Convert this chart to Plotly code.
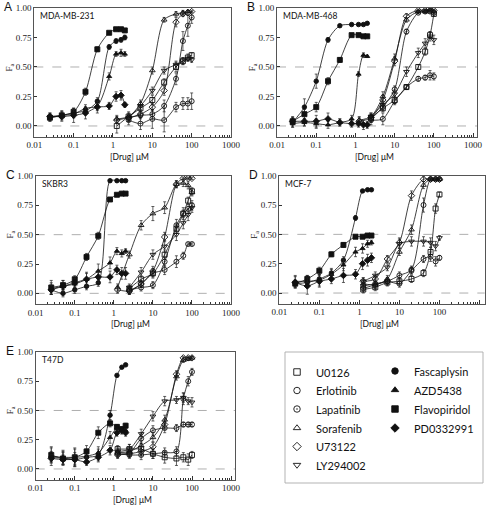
import plotly.graph_objects as go

W, H = 487, 506

conc_lo = [0.025, 0.05, 0.1, 0.2, 0.4, 0.8, 1.2, 1.6, 2.0]
conc_hi = [1.25, 2.5, 5, 10, 20, 40, 60, 80, 100]

drugs_open = ["U0126", "Erlotinib", "Lapatinib", "Sorafenib", "U73122", "LY294002"]
drugs_filled = ["Fascaplysin", "AZD5438", "Flavopiridol", "PD0332991"]
cell_lines = ["MDA-MB-231", "MDA-MB-468", "SKBR3", "MCF-7", "T47D"]
panel_letters = ["A", "B", "C", "D", "E"]
x_tick_vals = [0.01, 0.1, 1, 10, 100, 1000]
x_tick_text = ["0.01", "0.1", "1", "10", "100", "1000"]
y_tick_vals = [0, 0.25, 0.5, 0.75, 1.0]
y_tick_text = ["0.00", "0.25", "0.50", "0.75", "1.00"]

# ---- Fa values (open drugs on conc_hi, filled drugs on conc_lo) ----
fa_A = {
    "U0126":        [0.00, 0.08, 0.15, 0.22, 0.37, 0.50, 0.55, 0.58, 0.60],
    "Erlotinib":    [None, 0.05, 0.02, 0.06, 0.05, 0.16, 0.19, 0.19, 0.21],
    "Lapatinib":    [None, 0.07, 0.09, 0.10, 0.17, 0.40, 0.72, 0.85, 0.92],
    "Sorafenib":    [0.06, 0.08, 0.19, 0.47, 0.90, 0.95, 0.96, 0.97, None],
    "U73122":       [0.05, 0.07, 0.10, 0.16, 0.30, 0.88, 0.95, 0.96, 0.97],
    "LY294002":     [None, 0.07, 0.17, 0.30, 0.47, 0.52, 0.55, 0.57, 0.56],
    "Fascaplysin":  [0.07, 0.09, 0.11, 0.13, 0.21, 0.67, 0.72, 0.73, 0.75],
    "AZD5438":      [0.08, 0.09, 0.10, 0.15, 0.17, 0.42, 0.61, 0.62, 0.61],
    "Flavopiridol": [0.07, 0.09, 0.12, 0.29, 0.65, 0.79, 0.82, 0.82, 0.81],
    "PD0332991":    [0.08, 0.08, 0.09, 0.11, 0.16, 0.17, 0.25, 0.26, 0.18],
}
err_A = {
    "U0126":        [0.06, 0.04, 0.03, 0.04, 0.03, 0.04, 0.03, 0.03, 0.02],
    "Erlotinib":    [0.00, 0.04, 0.05, 0.08, 0.10, 0.04, 0.05, 0.05, 0.07],
    "Lapatinib":    [0.00, 0.03, 0.03, 0.04, 0.05, 0.05, 0.08, 0.09, 0.05],
    "Sorafenib":    [0.03, 0.03, 0.03, 0.03, 0.02, 0.02, 0.02, 0.01, 0.00],
    "U73122":       [0.03, 0.03, 0.03, 0.03, 0.04, 0.04, 0.02, 0.02, 0.01],
    "LY294002":     [0.00, 0.03, 0.03, 0.03, 0.03, 0.03, 0.03, 0.02, 0.02],
    "Fascaplysin":  [0.03, 0.04, 0.04, 0.03, 0.03, 0.02, 0.02, 0.02, 0.02],
    "AZD5438":      [0.03, 0.03, 0.03, 0.03, 0.04, 0.03, 0.02, 0.03, 0.02],
    "Flavopiridol": [0.03, 0.02, 0.03, 0.03, 0.02, 0.01, 0.01, 0.01, 0.01],
    "PD0332991":    [0.03, 0.04, 0.06, 0.05, 0.05, 0.03, 0.04, 0.04, 0.02],
}

fa_B = {
    "U0126":        [None, 0.07, 0.15, 0.22, 0.33, 0.50, 0.63, 0.77, 0.95],
    "Erlotinib":    [None, 0.05, 0.06, 0.21, 0.33, 0.40, 0.41, 0.43, 0.42],
    "Lapatinib":    [None, 0.06, 0.16, 0.31, 0.80, 0.96, 0.97, 0.97, 0.96],
    "Sorafenib":    [0.05, 0.08, 0.25, 0.57, 0.90, 0.97, 0.97, 0.98, 0.97],
    "U73122":       [0.04, 0.07, 0.22, 0.55, 0.93, 0.98, 0.98, 0.98, 0.98],
    "LY294002":     [None, 0.08, 0.18, 0.27, 0.46, 0.62, 0.70, 0.76, 0.73],
    "Fascaplysin":  [0.03, 0.16, 0.38, 0.73, 0.85, 0.86, 0.86, 0.86, 0.87],
    "AZD5438":      [0.02, 0.03, 0.02, 0.01, 0.03, 0.06, 0.44, 0.60, 0.59],
    "Flavopiridol": [0.04, 0.10, 0.16, 0.38, 0.56, 0.77, 0.77, 0.76, 0.76],
    "PD0332991":    [0.04, 0.04, 0.04, 0.06, 0.03, 0.02, 0.02, 0.01, 0.01],
}
err_B = {
    "U0126":        [0.00, 0.03, 0.03, 0.03, 0.02, 0.02, 0.03, 0.03, 0.02],
    "Erlotinib":    [0.00, 0.04, 0.05, 0.03, 0.02, 0.02, 0.02, 0.04, 0.03],
    "Lapatinib":    [0.00, 0.03, 0.03, 0.03, 0.02, 0.01, 0.01, 0.01, 0.01],
    "Sorafenib":    [0.03, 0.03, 0.04, 0.04, 0.02, 0.01, 0.01, 0.01, 0.01],
    "U73122":       [0.03, 0.03, 0.04, 0.04, 0.02, 0.01, 0.01, 0.01, 0.01],
    "LY294002":     [0.00, 0.03, 0.03, 0.03, 0.04, 0.04, 0.04, 0.04, 0.04],
    "Fascaplysin":  [0.04, 0.07, 0.06, 0.02, 0.01, 0.01, 0.01, 0.01, 0.01],
    "AZD5438":      [0.03, 0.03, 0.04, 0.03, 0.03, 0.03, 0.02, 0.02, 0.01],
    "Flavopiridol": [0.03, 0.04, 0.04, 0.03, 0.02, 0.01, 0.01, 0.01, 0.01],
    "PD0332991":    [0.04, 0.04, 0.05, 0.05, 0.03, 0.03, 0.03, 0.04, 0.03],
}

fa_C = {
    "U0126":        [None, 0.04, 0.12, 0.17, 0.33, 0.55, 0.68, 0.79, 0.87],
    "Erlotinib":    [None, 0.02, 0.08, 0.17, 0.20, 0.27, 0.32, 0.42, 0.42],
    "Lapatinib":    [None, 0.03, 0.05, 0.07, 0.27, 0.58, 0.68, 0.72, 0.75],
    "Sorafenib":    [0.05, 0.33, 0.58, 0.68, 0.73, 0.93, 0.94, 0.92, 0.86],
    "U73122":       [0.03, 0.02, 0.08, 0.19, 0.48, 0.93, 0.98, 0.98, 0.98],
    "LY294002":     [None, 0.05, 0.18, 0.33, 0.40, 0.50, 0.60, 0.67, 0.73],
    "Fascaplysin":  [0.03, 0.00, 0.03, 0.06, 0.09, 0.96, 0.96, 0.96, 0.96],
    "AZD5438":      [0.04, 0.06, 0.08, 0.12, 0.19, 0.26, 0.36, 0.34, 0.36],
    "Flavopiridol": [0.05, 0.07, 0.12, 0.31, 0.49, 0.80, 0.84, 0.85, 0.85],
    "PD0332991":    [0.03, 0.06, 0.09, 0.12, 0.14, 0.14, 0.20, 0.17, 0.17],
}
err_C = {
    "U0126":        [0.00, 0.03, 0.03, 0.03, 0.04, 0.04, 0.03, 0.03, 0.03],
    "Erlotinib":    [0.00, 0.03, 0.03, 0.04, 0.04, 0.05, 0.03, 0.01, 0.01],
    "Lapatinib":    [0.00, 0.03, 0.03, 0.03, 0.04, 0.05, 0.05, 0.04, 0.04],
    "Sorafenib":    [0.03, 0.03, 0.04, 0.06, 0.05, 0.03, 0.03, 0.03, 0.03],
    "U73122":       [0.03, 0.03, 0.03, 0.04, 0.04, 0.03, 0.01, 0.01, 0.01],
    "LY294002":     [0.00, 0.03, 0.04, 0.04, 0.05, 0.05, 0.05, 0.05, 0.04],
    "Fascaplysin":  [0.03, 0.03, 0.03, 0.03, 0.03, 0.01, 0.01, 0.01, 0.01],
    "AZD5438":      [0.05, 0.05, 0.05, 0.06, 0.06, 0.05, 0.03, 0.03, 0.02],
    "Flavopiridol": [0.06, 0.04, 0.03, 0.03, 0.03, 0.01, 0.01, 0.01, 0.01],
    "PD0332991":    [0.04, 0.03, 0.04, 0.05, 0.05, 0.05, 0.04, 0.05, 0.05],
}

fa_D = {
    "U0126":        [0.03, 0.05, 0.09, 0.10, 0.12, 0.17, 0.35, 0.72, 0.84],
    "Erlotinib":    [0.04, 0.07, 0.10, 0.08, 0.19, 0.29, 0.31, 0.27, 0.30],
    "Lapatinib":    [0.06, 0.08, 0.10, 0.15, 0.20, 0.75, 0.97, 0.97, 0.97],
    "Sorafenib":    [0.08, 0.07, 0.12, 0.35, 0.54, 0.92, 0.97, 0.97, 0.97],
    "U73122":       [0.10, 0.12, 0.29, 0.43, 0.83, 0.97, 0.97, 0.97, 0.97],
    "LY294002":     [0.10, 0.15, 0.22, 0.42, 0.44, 0.44, 0.43, 0.40, 0.47],
    "Fascaplysin":  [0.08, 0.09, 0.12, 0.17, 0.28, 0.64, 0.87, 0.88, 0.88],
    "AZD5438":      [0.10, 0.10, 0.11, 0.16, 0.24, 0.35, 0.38, 0.42, 0.43],
    "Flavopiridol": [0.08, 0.12, 0.19, 0.33, 0.41, 0.48, 0.48, 0.49, 0.49],
    "PD0332991":    [0.09, 0.06, 0.10, 0.12, 0.15, 0.16, 0.25, 0.28, 0.30],
}
err_D = {
    "U0126":        [0.03, 0.03, 0.03, 0.03, 0.03, 0.03, 0.04, 0.04, 0.02],
    "Erlotinib":    [0.03, 0.03, 0.03, 0.03, 0.03, 0.03, 0.04, 0.04, 0.02],
    "Lapatinib":    [0.03, 0.03, 0.03, 0.03, 0.03, 0.06, 0.01, 0.01, 0.01],
    "Sorafenib":    [0.03, 0.03, 0.03, 0.03, 0.04, 0.03, 0.01, 0.01, 0.01],
    "U73122":       [0.03, 0.03, 0.03, 0.04, 0.04, 0.02, 0.01, 0.01, 0.01],
    "LY294002":     [0.03, 0.03, 0.03, 0.04, 0.04, 0.04, 0.04, 0.04, 0.02],
    "Fascaplysin":  [0.03, 0.04, 0.04, 0.03, 0.03, 0.02, 0.01, 0.01, 0.01],
    "AZD5438":      [0.05, 0.05, 0.05, 0.05, 0.05, 0.04, 0.04, 0.03, 0.02],
    "Flavopiridol": [0.03, 0.03, 0.03, 0.02, 0.02, 0.01, 0.01, 0.01, 0.01],
    "PD0332991":    [0.05, 0.07, 0.05, 0.04, 0.06, 0.04, 0.05, 0.05, 0.04],
}

fa_E = {
    "U0126":        [0.17, 0.17, 0.17, 0.13, 0.10, 0.09, 0.10, 0.08, 0.12],
    "Erlotinib":    [0.14, 0.14, 0.26, 0.33, 0.35, 0.35, 0.38, 0.38, 0.38],
    "Lapatinib":    [0.13, 0.12, 0.12, 0.13, 0.14, 0.15, 0.60, 0.75, 0.83],
    "Sorafenib":    [0.14, 0.15, 0.20, 0.27, 0.42, 0.79, 0.93, 0.94, 0.95],
    "U73122":       [0.12, 0.13, 0.15, 0.19, 0.38, 0.81, 0.95, 0.95, 0.95],
    "LY294002":     [0.15, 0.17, 0.30, 0.45, 0.58, 0.59, 0.61, 0.58, 0.57],
    "Fascaplysin":  [0.10, 0.09, 0.08, 0.10, 0.12, 0.46, 0.80, 0.87, 0.89],
    "AZD5438":      [0.11, 0.10, 0.10, 0.11, 0.14, 0.27, 0.35, 0.33, 0.33],
    "Flavopiridol": [0.12, 0.09, 0.10, 0.15, 0.31, 0.39, 0.36, 0.34, 0.37],
    "PD0332991":    [0.09, 0.08, 0.08, 0.06, 0.10, 0.16, 0.31, 0.33, 0.31],
}
err_E = {
    "U0126":        [0.03, 0.04, 0.05, 0.04, 0.05, 0.06, 0.04, 0.05, 0.03],
    "Erlotinib":    [0.03, 0.03, 0.04, 0.04, 0.04, 0.03, 0.02, 0.02, 0.02],
    "Lapatinib":    [0.03, 0.03, 0.04, 0.04, 0.04, 0.04, 0.05, 0.04, 0.03],
    "Sorafenib":    [0.03, 0.04, 0.04, 0.04, 0.04, 0.03, 0.02, 0.01, 0.01],
    "U73122":       [0.03, 0.03, 0.04, 0.04, 0.04, 0.03, 0.01, 0.01, 0.01],
    "LY294002":     [0.03, 0.04, 0.04, 0.04, 0.04, 0.03, 0.04, 0.03, 0.04],
    "Fascaplysin":  [0.05, 0.05, 0.06, 0.05, 0.05, 0.04, 0.01, 0.01, 0.01],
    "AZD5438":      [0.08, 0.06, 0.07, 0.06, 0.05, 0.05, 0.03, 0.03, 0.02],
    "Flavopiridol": [0.06, 0.06, 0.08, 0.05, 0.05, 0.03, 0.02, 0.02, 0.02],
    "PD0332991":    [0.03, 0.04, 0.04, 0.03, 0.04, 0.04, 0.03, 0.03, 0.03],
}

panel_fa = [fa_A, fa_B, fa_C, fa_D, fa_E]
panel_err = [err_A, err_B, err_C, err_D, err_E]

# ---- styling ----
symbols = {
    "U0126": "square-open", "Erlotinib": "circle-open", "Lapatinib": "circle-open-dot",
    "Sorafenib": "triangle-up-open", "U73122": "diamond-open", "LY294002": "triangle-down-open",
    "Fascaplysin": "circle", "AZD5438": "triangle-up", "Flavopiridol": "square",
    "PD0332991": "diamond",
}
msize = {
    "U0126": 5, "Erlotinib": 5, "Lapatinib": 5, "Sorafenib": 5, "U73122": 5, "LY294002": 5,
    "Fascaplysin": 4.5, "AZD5438": 4.5, "Flavopiridol": 5, "PD0332991": 5,
}

# panel boxes in pixels: left, right, top(y=1), bottom(y=-0.09), xmax(log)
boxes = [
    (34.3, 231.0, 8.0, 136.6, 3.0),
    (277.0, 477.0, 8.0, 136.6, 3.1),
    (35.7, 231.0, 176.0, 303.9, 3.0),
    (279.3, 484.7, 175.7, 303.6, 3.13),
    (35.7, 235.0, 352.0, 479.5, 3.1),
]
YMIN, YMAX = -0.09, 1.0

SERIF = "Liberation Serif"
SANS = "Lato"

fig = go.Figure()
layout = dict(
    width=W, height=H, margin=dict(l=0, r=0, t=0, b=0, autoexpand=False),
    paper_bgcolor="white", plot_bgcolor="rgba(0,0,0,0)", showlegend=False,
)
annotations = []
shapes = []

for i, (box, fa, err) in enumerate(zip(boxes, panel_fa, panel_err)):
    n = i + 1
    l, r, t, b, xmax = box
    xa = "xaxis" if n == 1 else f"xaxis{n}"
    ya = "yaxis" if n == 1 else f"yaxis{n}"
    xr = "x" if n == 1 else f"x{n}"
    yr = "y" if n == 1 else f"y{n}"
    layout[xa] = dict(
        domain=[l / W, r / W], anchor=yr, type="log", range=[-2, xmax],
        tickmode="array", tickvals=x_tick_vals, ticktext=x_tick_text,
        ticks="inside", ticklen=4, tickwidth=0.8, tickcolor="#333",
        minor=dict(ticks="inside", ticklen=2, tickwidth=0.6, tickcolor="#333",
                   tickvals=[m * 10 ** e for e in range(-2, 3) for m in range(2, 10)]),
        showline=True, mirror=True, linecolor="#555", linewidth=0.8,
        showgrid=False, zeroline=False,
        tickfont=dict(family=SERIF, size=9, color="#222"),
    )
    layout[ya] = dict(
        domain=[1 - b / H, 1 - t / H], anchor=xr, range=[YMIN, YMAX],
        tickmode="array", tickvals=y_tick_vals, ticktext=y_tick_text,
        ticks="inside", ticklen=3, tickwidth=0.8, tickcolor="#333",
        showline=True, mirror=True, linecolor="#555", linewidth=0.8,
        showgrid=False, zeroline=False,
        tickfont=dict(family=SERIF, size=9, color="#222"),
    )
    for yv in (0.0, 0.5):
        shapes.append(dict(type="line", xref=f"{xr} domain", yref=yr, x0=0, x1=1, y0=yv, y1=yv,
                           line=dict(color="#9a9a9a", width=0.8, dash="dash"), layer="below"))

    for d in drugs_open + drugs_filled:
        xs = conc_hi if d in drugs_open else conc_lo
        fig.add_trace(go.Scatter(
            x=xs, y=fa[d], xaxis=xr, yaxis=yr, mode="lines+markers",
            line=dict(color="#111", width=0.8, shape="spline", smoothing=0.8),
            marker=dict(symbol=symbols[d], size=msize[d], color="#111",
                        line=dict(color="#111", width=0.9)),
            error_y=dict(type="data", array=err[d], visible=True, color="#222",
                         thickness=0.7, width=1.5),
            cliponaxis=False, name=d,
        ))

    # panel letter
    annotations.append(dict(text=panel_letters[i], xref="paper", yref="paper",
                            x=(l - 32) / W, y=1 - (t - 1) / H, xanchor="left", yanchor="middle",
                            showarrow=False, font=dict(family="Liberation Sans", size=12, color="#111")))
    # cell line label
    annotations.append(dict(text=cell_lines[i], xref="paper", yref="paper",
                            x=(l + 4) / W, y=1 - (t + 8) / H, xanchor="left", yanchor="middle",
                            showarrow=False, font=dict(family=SANS, size=8.5, color="#111")))
    # axis titles
    annotations.append(dict(text="[Drug] μM", xref="paper", yref="paper",
                            x=((l + r) / 2 - 3) / W, y=1 - (b + 20.5) / H, xanchor="center", yanchor="middle",
                            showarrow=False, font=dict(family=SANS, size=8.5, color="#111")))
    annotations.append(dict(text="F<sub>a</sub>", xref="paper", yref="paper",
                            x=(l - 25) / W, y=1 - (t + (b - t) * 0.46) / H, xanchor="center", yanchor="middle",
                            textangle=-90, showarrow=False,
                            font=dict(family=SERIF, size=9, color="#111")))

# ---- legend panel (pixel coordinate overlay axes) ----
layout["xaxis6"] = dict(domain=[0, 1], range=[0, W], visible=False, anchor="y6", fixedrange=True)
layout["yaxis6"] = dict(domain=[0, 1], range=[H, 0], visible=False, anchor="x6", fixedrange=True)
shapes.append(dict(type="rect", xref="paper", yref="paper",
                   x0=285 / W, x1=483 / W, y0=1 - 483 / H, y1=1 - 352 / H,
                   line=dict(color="#aaaaaa", width=0.9), fillcolor="rgba(0,0,0,0)"))
leg_col1_x, leg_col1_tx = 297, 314
leg_col2_x, leg_col2_tx = 395, 412
leg_rows1 = [372, 390.5, 409, 428, 446.5, 465]
leg_rows2 = [371, 390, 409, 428]
for d, yy in zip(drugs_open, leg_rows1):
    fig.add_trace(go.Scatter(x=[leg_col1_x], y=[yy], xaxis="x6", yaxis="y6", mode="markers",
                             marker=dict(symbol=symbols[d], size=6.5, color="#111",
                                         line=dict(color="#111", width=0.9)), hoverinfo="skip"))
    annotations.append(dict(text=d, xref="x6", yref="y6", x=leg_col1_tx, y=yy, xanchor="left",
                            yanchor="middle", showarrow=False,
                            font=dict(family=SANS, size=11, color="#111")))
for d, yy in zip(drugs_filled, leg_rows2):
    fig.add_trace(go.Scatter(x=[leg_col2_x], y=[yy], xaxis="x6", yaxis="y6", mode="markers",
                             marker=dict(symbol=symbols[d], size=6.5, color="#111",
                                         line=dict(color="#111", width=0.9)), hoverinfo="skip"))
    annotations.append(dict(text=d, xref="x6", yref="y6", x=leg_col2_tx, y=yy, xanchor="left",
                            yanchor="middle", showarrow=False,
                            font=dict(family=SANS, size=11, color="#111")))

layout["annotations"] = annotations
layout["shapes"] = shapes
fig.update_layout(**layout)
fig.write_html("out.html", config={"displayModeBar": False},
               post_script="document.body.style.margin='0';document.body.style.overflow='hidden';")
